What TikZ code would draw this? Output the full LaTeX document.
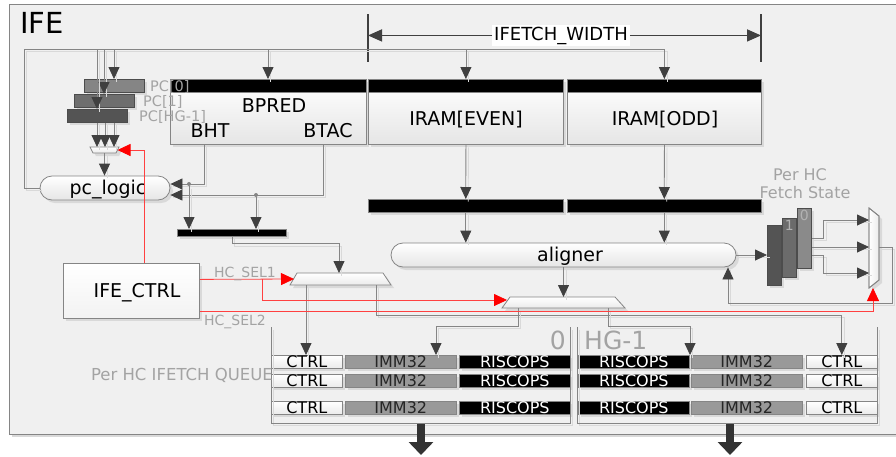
\documentclass[tikz,border=0pt]{standalone}
\usepackage{fontspec}
\setmainfont{DejaVu Sans}
\usetikzlibrary{arrows.meta,shadows,calc}
\definecolor{bgc}{HTML}{F0F0F0}
\definecolor{linec}{HTML}{858585}
\definecolor{arrc}{HTML}{404040}
\definecolor{labc}{HTML}{A3A3A3}
\definecolor{shc}{HTML}{D9D9D9}
\definecolor{redc}{HTML}{FF4040}
\newcommand{\fsz}[1]{\fontsize{#1}{#1}\selectfont}
\tikzset{
  wire/.style={draw=linec, line width=0.8pt, preaction={draw=shc, line width=0.8pt, -, transform canvas={xshift=2.5pt,yshift=-2.5pt}}},
  tipa/.style={-{Triangle[length=12pt,width=11pt,color=arrc]}},
  redw/.style={draw=redc, line width=0.8pt},
  tipr/.style={-{Triangle[length=13pt,width=12pt,color=red]}},
  sh/.style={drop shadow={shadow xshift=3pt,shadow yshift=-3pt,fill=shc,opacity=1}},
  boxg/.style={draw=linec, line width=0.8pt, top color=white, bottom color=black!10, sh, inner sep=0pt},
  muxs/.style={draw=linec, line width=0.8pt, top color=white, bottom color=black!8, sh},
  blk/.style={draw=linec, fill=black, line width=0.6pt, inner sep=0pt, anchor=north west},
  txt/.style={inner sep=0pt, font=\fsz{19}},
  glab/.style={inner sep=0pt, text=labc},
  jdot/.style={circle, fill=linec, inner sep=0pt, minimum size=4pt},
  regb/.style={draw=black!70, line width=0.5pt, inner sep=0pt, anchor=north west, minimum width=14pt, sh},
  pcb/.style={draw=black!70, line width=0.5pt, inner sep=0pt, anchor=north west, minimum width=60pt, minimum height=13pt, sh},
  cellb/.style={draw=linec, line width=0.6pt, inner sep=0pt, anchor=north west, minimum height=13pt, font=\fsz{16}, sh},
  ctrlc/.style={cellb, top color=white, bottom color=black!8, minimum width=71pt},
  immc/.style={cellb, fill=black!40, text=black!85, minimum width=111pt},
  risc/.style={cellb, fill=black, text=white, minimum width=111pt},
  bigarr/.style={draw=black!80, line width=8pt, -{Triangle[length=13pt,width=24pt]}},
}
\begin{document}
\begin{tikzpicture}[x=1pt,y=-1pt]
\useasboundingbox (0,0) rectangle (896,456);
% outer frame
\node[draw=linec, fill=bgc, line width=0.8pt, sh, minimum width=887pt, minimum height=430pt, anchor=north west, inner sep=0pt] (ife) at (9,4) {};
\node[anchor=north west, inner sep=0pt, font=\fsz{29}] (ifet) at (20,12) {IFE};

% IFETCH_WIDTH dimension
\coordinate (wlt) at (368,14); \coordinate (wlb) at (368,62);
\coordinate (wrt) at (761,14); \coordinate (wrb) at (761,62);
\draw[arrc, line width=2pt] (wlt) -- (wlb);
\draw[arrc, line width=2pt] (wrt) -- (wrb);
\node[fill=white, inner sep=2pt, font=\fsz{18}, anchor=base] (wlab) at (561,40) {IFETCH\_WIDTH};
\draw[arrc, line width=1.6pt, -{Triangle[length=14pt,width=12pt]}] (wlab.west) -- (wlt |- wlab.west);
\draw[arrc, line width=1.6pt, -{Triangle[length=14pt,width=12pt]}] (wlab.east) -- (wrt |- wlab.east);

% boxes
\node[boxg, minimum width=196pt, minimum height=65pt, anchor=north west] (bpred) at (170,79) {};
\node[blk, minimum width=196pt, minimum height=13pt] (bpbar) at (170,79) {};
\node[txt, anchor=base] (bpt) at (274,112) {BPRED};
\node[txt, anchor=base] (bht) at (210,137) {BHT};
\node[txt, anchor=base] (btac) at (328,137) {BTAC};

\node[boxg, minimum width=195pt, minimum height=65pt, anchor=north west] (irame) at (368,79) {};
\node[blk, minimum width=195pt, minimum height=13pt] (iebar) at (368,79) {};
\node[txt, anchor=base] (iet) at (466,125) {IRAM[EVEN]};
\node[boxg, minimum width=194pt, minimum height=65pt, anchor=north west] (iramo) at (567,79) {};
\node[blk, minimum width=194pt, minimum height=13pt] (iobar) at (567,79) {};
\node[txt, anchor=base] (iot) at (665,125) {IRAM[ODD]};

\node[blk, sh, minimum width=195pt, minimum height=13pt] (ieb) at (368,199) {};
\node[blk, sh, minimum width=194pt, minimum height=13pt] (iob) at (567,199) {};

\node[boxg, rounded corners=12pt, minimum width=130pt, minimum height=24pt] (pcl) at (105,188) {};
\node[txt, anchor=base] (pclt) at (108,194) {pc\_logic};

\node[boxg, rounded corners=12pt, minimum width=345pt, minimum height=24pt] (al) at (563.5,255) {};
\node[txt, anchor=base] (alt) at (570,261) {aligner};

\node[draw=linec, line width=0.8pt, top color=white, bottom color=black!5, sh, inner sep=0pt, minimum width=136pt, minimum height=55pt, anchor=north west] (ctrl) at (63,263) {};
\node[txt, anchor=base] (ctrlt) at (137,297) {IFE\_CTRL};

% PC registers
\node[pcb, fill=black!48] (pc0) at (84,79) {};
\node[pcb, fill=black!57] (pc1) at (74,94) {};
\node[pcb, fill=black!67] (pcn) at (67,109) {};
\node[glab, font=\fsz{14.5}, anchor=base west] (pc0l) at (150,91) {PC[0]};
\node[glab, font=\fsz{14.5}, anchor=base west] (pc1l) at (143,106) {PC[1]};
\node[glab, font=\fsz{14.5}, anchor=base west] (pcnl) at (139,121) {PC[HG-1]};

% small mux
\coordinate (sm1) at (90,147); \coordinate (sm2) at (119,147);
\coordinate (sm3) at (116,153); \coordinate (sm4) at (93,153);
\draw[muxs] (sm1) -- (sm2) -- (sm3) -- (sm4) -- cycle;
\coordinate (smr) at (117.5,150);
\coordinate (smo) at (104.5,153);

% top distribution wire
\coordinate (tl) at (24,49);
\draw[wire,tipa] (pcl.west) -| (tl) -| (iramo.north);
\draw[wire,tipa] (tl -| irame.north) -- (irame.north);
\coordinate (bpin) at ([xshift=98pt]bpred.north west);
\draw[wire,tipa] (tl -| bpin) -- (bpin);
\coordinate (pi0) at ([xshift=30pt]pc0.north west);
\coordinate (pi1) at ([xshift=30pt]pc1.north west);
\coordinate (pi2) at ([xshift=30pt]pcn.north west);
\draw[wire,tipa] (tl -| pi0) -- (pi0);
\draw[wire,tipa] (tl -| pi1) -- (pi1);
\draw[wire,tipa] (tl -| pi2) -- (pi2);
% PC outputs to mux
\draw[wire,tipa] ([xshift=30pt]pcn.south west) -- ([xshift=30pt]pcn.south west |- sm1);
\draw[wire,tipa] ([xshift=38pt]pcn.south west) -- ([xshift=38pt]pcn.south west |- sm1);
\draw[wire,tipa] ([xshift=47pt]pcn.south west) -- ([xshift=47pt]pcn.south west |- sm1);
\draw[wire,tipa] (smo) -- (smo |- pcl.north);

% BPRED outputs
\node[blk, sh, minimum width=109pt, minimum height=7pt] (bbar) at (177,229) {};
\coordinate (bhto) at ([xshift=34pt]bpred.south west);
\coordinate (btaco) at ([xshift=153pt]bpred.south west);
\draw[wire,tipa] (bhto) |- ([yshift=4pt]pcl.east);
\draw[wire,tipa] (btaco) |- ([yshift=-7pt]pcl.east);
\node[jdot] (j1) at (189,184) {};
\node[jdot] (j2) at (256,195) {};
\draw[wire,tipa] (j1) -- (j1 |- bbar.north);
\draw[wire,tipa] (j2) -- (j2 |- bbar.north);

% mux1
\coordinate (m1a) at (297,273); \coordinate (m1b) at (383,273);
\coordinate (m1c) at (391,285); \coordinate (m1d) at (290,285);
\draw[muxs] (m1a) -- (m1b) -- (m1c) -- (m1d) -- cycle;
\coordinate (m1in) at (339,273);
\coordinate (m1l) at (294,279);
\draw[wire,tipa] ([xshift=55pt]bbar.south west) -- ++(0,7) -| (m1in);

% IRAM paths
\draw[wire,tipa] (irame.south) -- (ieb.north);
\draw[wire,tipa] (iramo.south) -- (iob.north);
\draw[wire,tipa] (ieb.south) -- (ieb.south |- al.north);
\draw[wire,tipa] (iob.south) -- (iob.south |- al.north);

% mux2
\coordinate (m2a) at (510,297); \coordinate (m2b) at (615,297);
\coordinate (m2c) at (625,308); \coordinate (m2d) at (502,308);
\draw[muxs] (m2a) -- (m2b) -- (m2c) -- (m2d) -- cycle;
\coordinate (m2l) at (507,300);
\draw[wire,tipa] (al.south) -- (al.south |- m2a);

% fetch state registers
\node[glab, font=\fsz{16}, anchor=base] (fs1) at (800,180) {Per HC};
\node[glab, font=\fsz{16}, anchor=base] (fs2) at (805,198) {Fetch State};
\node[regb, fill=black!67, minimum height=60pt] (rg2) at (767,225) {};
\node[regb, fill=black!58, minimum height=59pt] (rg1) at (782,218) {};
\node[regb, fill=black!46, minimum height=60pt] (rg0) at (797,208) {};
\node[inner sep=0pt, font=\fsz{14}, text=black!30, anchor=north] (rg1l) at ([yshift=-2pt]rg1.north) {1};
\node[inner sep=0pt, font=\fsz{14}, text=black!30, anchor=north] (rg0l) at ([yshift=-2pt]rg0.north) {0};
\draw[wire,tipa] (al.east) -- (al.east -| rg2.west);

% right mux
\coordinate (rm1) at (869,208); \coordinate (rm2) at (879,216);
\coordinate (rm3) at (879,280); \coordinate (rm4) at (869,288);
\path[muxs, left color=white, right color=black!8] (rm1) -- (rm2) -- (rm3) -- (rm4) -- cycle;
\draw[draw=linec, line width=0.8pt] (rm1) -- (rm2) -- (rm3) -- (rm4) -- cycle;
\coordinate (rmi1) at (869,220); \coordinate (rmi2) at (869,247); \coordinate (rmi3) at (869,273);
\coordinate (rmo) at (879,247);
\coordinate (rmb) at (873,288);
\draw[wire,tipa] ([yshift=-30pt]rg0.north east) -- ++(12,0) |- (rmi1);
\draw[wire,tipa] ([yshift=-39pt]rg0.north east) -- (rmi2);
\draw[wire,tipa] ([yshift=-47pt]rg0.north east) -- ++(12,0) |- (rmi3);
\coordinate (alf) at ([xshift=164.5pt]al.south);
\draw[wire,tipa] (rmo) -| ++(13,56) -| (alf);

% queues
\foreach \r/\yy in {1/355,2/374,3/401}{
  \node[ctrlc] (qlc\r) at (271,\yy) {CTRL};
  \node[immc] (qli\r) at (345,\yy) {IMM32};
  \node[risc] (qlr\r) at (459,\yy) {RISCOPS};
  \node[risc] (qrr\r) at (578,\yy) {RISCOPS};
  \node[immc] (qri\r) at (691,\yy) {IMM32};
  \node[ctrlc] (qrc\r) at (806,\yy) {CTRL};
}
\coordinate (qf1) at (271,327); \coordinate (qf2) at (271,423);
\coordinate (qf3) at (570,423); \coordinate (qf4) at (570,327);
\draw[wire] (qf1) -- (qf2) -- (qf3) -- (qf4);
\coordinate (qg1) at (577,327); \coordinate (qg2) at (577,423);
\coordinate (qg3) at (877,423); \coordinate (qg4) at (877,327);
\draw[wire] (qg1) -- (qg2) -- (qg3) -- (qg4);
\node[glab, font=\fsz{25}, anchor=base east] (q0l) at (566,349) {0};
\node[glab, font=\fsz{25}, anchor=base west] (qhl) at (584,349) {HG-1};
\node[glab, font=\fsz{16.5}, anchor=base east] (qlab) at (273,380) {Per HC IFETCH QUEUE};

% mux outputs into queues
\coordinate (m1o1) at (306,285); \coordinate (m1o2) at (376,285);
\draw[wire,tipa] (m1o1) -- (m1o1 |- qlc1.north);
\draw[wire,tipa] (m1o2) -- ++(0,30) -| (qrc1.north);
\coordinate (m2o1) at (518,308); \coordinate (m2o2) at (608,308);
\draw[wire,tipa] (m2o1) -- ++(0,18) -| ([xshift=91pt]qli1.north west);
\draw[wire,tipa] (m2o2) -- ++(0,18) -| ([xshift=-1pt]qri1.north west);

% big output arrows
\coordinate (oa1) at (421,424); \coordinate (ob1) at (421,455);
\coordinate (oa2) at (730,424); \coordinate (ob2) at (730,455);
\draw[bigarr] (oa1) -- (ob1);
\draw[bigarr] (oa2) -- (ob2);

% control (red) lines
\draw[redw,tipr] ([xshift=81pt]ctrl.north west) |- (smr);
\draw[redw,tipr] ([yshift=11.5pt]ctrl.east) -- (m1l);
\coordinate (rb) at (262,279);
\draw[redw,tipr] (rb) |- (m2l);
\draw[redw,tipr] ([yshift=-20.5pt]ctrl.east) -| (rmb);
\node[glab, font=\fsz{14}, anchor=base] (hs1) at (245,277) {HC\_SEL1};
\node[glab, font=\fsz{14}, anchor=base] (hs2) at (235,325) {HC\_SEL2};
\end{tikzpicture}
\end{document}
